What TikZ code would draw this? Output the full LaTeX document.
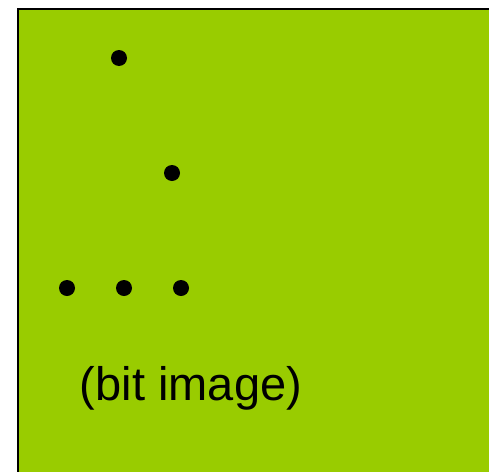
\documentclass[tikz,border=0pt]{standalone}
\usepackage{fontspec}
\setmainfont{Liberation Sans}
\usepackage{xcolor}
\usepackage{tikz}
\definecolor{bitgreen}{HTML}{99CC00}
\tikzset{
    bitdot/.style = {circle, fill=black, inner sep=0pt, minimum size=16pt},
    bitframe/.style = {draw=black, line width=2pt, fill=bitgreen},
}

\begin{document}
\begin{tikzpicture}[x=1pt,y=-1pt]
\useasboundingbox (0,0) rectangle (489,471);
\clip (0,0) rectangle (489,471);
\draw[bitframe] (18,9) rectangle (500,485);

\node[bitdot] (d1) at (119,58) {};
\node[bitdot] (d2) at (172,173) {};
\node[bitdot] (d3) at (67,288) {};
\node[bitdot] (d4) at (124,288) {};
\node[bitdot] (d5) at (181,288) {};

\node (cap) at (191,388) {\fontsize{47}{56}\selectfont (bit image)};
\end{tikzpicture}
\end{document}
